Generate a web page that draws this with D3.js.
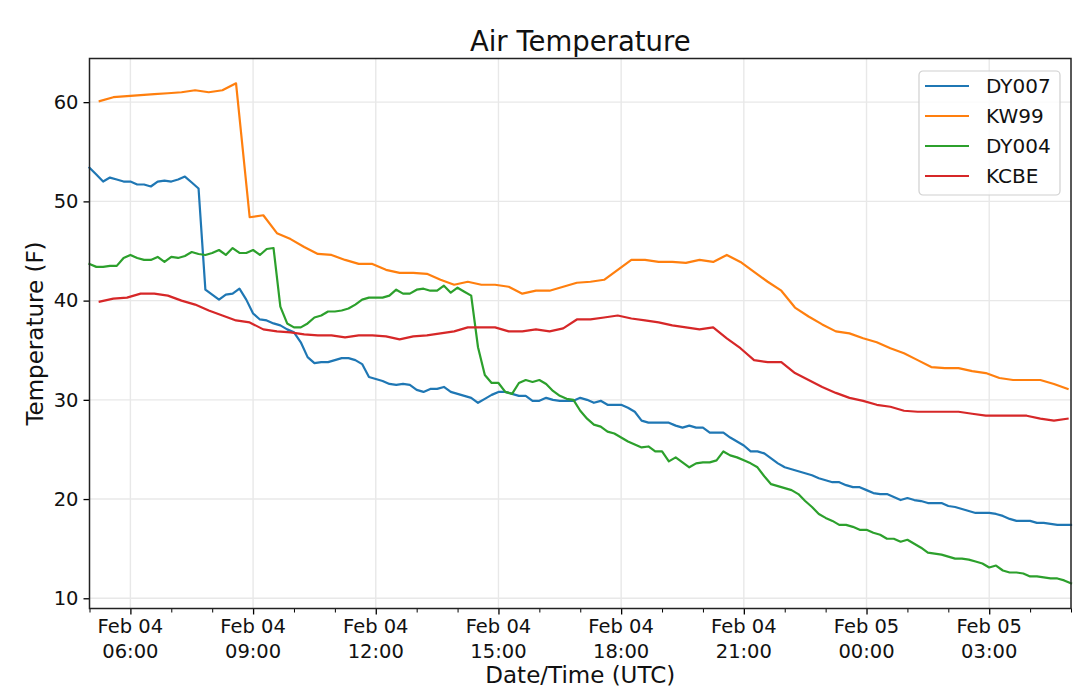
<!DOCTYPE html>
<html>
<head>
<meta charset="utf-8">
<script src="https://cdn.jsdelivr.net/npm/d3@7"></script>
<style>
  body { margin: 0; background: #fff; }
  svg { font-family: "DejaVu Sans", sans-serif; }
</style>
</head>
<body>
<div id="chart"></div>
<script>
// station series, temps in F
const stationNames = ["DY007", "KW99", "DY004", "KCBE"];
const stationColors = ["#1f77b4", "#ff7f0e", "#2ca02c", "#d62728"];

// DY stations report every 10 min from 05:00 UTC
const dyStart = "2019-02-04T05:00:00Z";
const dyStepMin = 10;
// KW99 / KCBE report every 20 min from 05:15 UTC
const kStart = "2019-02-04T05:15:00Z";
const kStepMin = 20;

const dy007 = [53.4, 52.7, 52.0, 52.4, 52.2, 52.0, 52.0, 51.7, 51.7, 51.5,
  52.0, 52.1, 52.0, 52.2, 52.5, 51.9, 51.3, 41.1, 40.6, 40.1,
  40.6, 40.7, 41.2, 40.1, 38.7, 38.1, 38.0, 37.7, 37.5, 37.1,
  36.8, 35.8, 34.3, 33.7, 33.8, 33.8, 34.0, 34.2, 34.2, 34.0,
  33.6, 32.3, 32.1, 31.9, 31.6, 31.5, 31.6, 31.5, 31.0, 30.8,
  31.1, 31.1, 31.3, 30.8, 30.6, 30.4, 30.2, 29.7, 30.1, 30.5,
  30.8, 30.8, 30.6, 30.4, 30.4, 29.9, 29.9, 30.2, 30.0, 29.9,
  29.9, 29.9, 30.2, 30.0, 29.7, 29.9, 29.5, 29.5, 29.5, 29.2,
  28.8, 27.9, 27.7, 27.7, 27.7, 27.7, 27.4, 27.2, 27.4, 27.2,
  27.2, 26.7, 26.7, 26.7, 26.2, 25.8, 25.4, 24.8, 24.8, 24.6,
  24.1, 23.6, 23.2, 23.0, 22.8, 22.6, 22.4, 22.1, 21.9, 21.7,
  21.7, 21.4, 21.2, 21.2, 20.9, 20.6, 20.5, 20.5, 20.2, 19.9,
  20.1, 19.9, 19.8, 19.6, 19.6, 19.6, 19.3, 19.2, 19.0, 18.8,
  18.6, 18.6, 18.6, 18.5, 18.3, 18.0, 17.8, 17.8, 17.8, 17.6,
  17.6, 17.5, 17.4, 17.4, 17.4];

const dy004 = [43.7, 43.4, 43.4, 43.5, 43.5, 44.3, 44.6, 44.3, 44.1, 44.1,
  44.4, 43.9, 44.4, 44.3, 44.5, 44.9, 44.7, 44.6, 44.8, 45.1,
  44.6, 45.3, 44.8, 44.8, 45.1, 44.6, 45.2, 45.3, 39.4, 37.7,
  37.3, 37.3, 37.7, 38.3, 38.5, 38.9, 38.9, 39.0, 39.2, 39.6,
  40.1, 40.3, 40.3, 40.3, 40.5, 41.1, 40.7, 40.7, 41.1, 41.2,
  41.0, 41.0, 41.5, 40.8, 41.3, 40.9, 40.5, 35.3, 32.5, 31.7,
  31.7, 30.8, 30.6, 31.7, 32.0, 31.8, 32.0, 31.6, 30.9, 30.4,
  30.1, 30.0, 28.9, 28.1, 27.5, 27.3, 26.8, 26.6, 26.2, 25.8,
  25.5, 25.2, 25.3, 24.8, 24.8, 23.8, 24.2, 23.7, 23.2, 23.6,
  23.7, 23.7, 23.9, 24.8, 24.4, 24.2, 23.9, 23.6, 23.2, 22.3,
  21.5, 21.3, 21.1, 20.9, 20.5, 19.8, 19.2, 18.5, 18.1, 17.8,
  17.4, 17.4, 17.2, 16.9, 16.9, 16.6, 16.4, 16.0, 16.0, 15.7,
  15.9, 15.5, 15.1, 14.6, 14.5, 14.4, 14.2, 14.0, 14.0, 13.9,
  13.7, 13.5, 13.1, 13.3, 12.8, 12.6, 12.6, 12.5, 12.2, 12.2,
  12.1, 12.0, 12.0, 11.8, 11.5];

const kw99 = [60.1, 60.5, 60.6, 60.7, 60.8, 60.9, 61.0, 61.2, 61.0, 61.2,
  61.9, 48.4, 48.6, 46.8, 46.2, 45.4, 44.7, 44.6, 44.1, 43.7,
  43.7, 43.1, 42.8, 42.8, 42.7, 42.1, 41.6, 41.9, 41.6, 41.6,
  41.4, 40.7, 41.0, 41.0, 41.4, 41.8, 41.9, 42.1, 43.1, 44.1,
  44.1, 43.9, 43.9, 43.8, 44.1, 43.9, 44.6, 43.9, 42.9, 41.9,
  41.0, 39.3, 38.4, 37.6, 36.9, 36.7, 36.2, 35.8, 35.2, 34.7,
  34.0, 33.3, 33.2, 33.2, 32.9, 32.7, 32.2, 32.0, 32.0, 32.0,
  31.6, 31.1];

const kcbe = [39.9, 40.2, 40.3, 40.7, 40.7, 40.5, 40.0, 39.6, 39.0, 38.5,
  38.0, 37.8, 37.1, 36.9, 36.8, 36.6, 36.5, 36.5, 36.3, 36.5,
  36.5, 36.4, 36.1, 36.4, 36.5, 36.7, 36.9, 37.3, 37.3, 37.3,
  36.9, 36.9, 37.1, 36.9, 37.2, 38.1, 38.1, 38.3, 38.5, 38.2,
  38.0, 37.8, 37.5, 37.3, 37.1, 37.3, 36.2, 35.2, 34.0, 33.8,
  33.8, 32.7, 32.0, 31.3, 30.7, 30.2, 29.9, 29.5, 29.3, 28.9,
  28.8, 28.8, 28.8, 28.8, 28.6, 28.4, 28.4, 28.4, 28.4, 28.1,
  27.9, 28.1];

const xDomain = ["2019-02-04T05:00:00Z", "2019-02-05T05:00:00Z"];
const yDomain = [8.97, 64.4];
const yTicks = [10, 20, 30, 40, 50, 60];

const W = 1079, H = 700;
const margin = {left: 89.5, top: 58.5, right: 8, bottom: 91.5};
const innerW = W - margin.left - margin.right;
const innerH = H - margin.top - margin.bottom;

const toSeries = (vals, start, step) => {
  const t0 = new Date(start);
  return vals.map((v, i) => ({t: d3.utcMinute.offset(t0, i * step), v: v}));
};

const series = [
  toSeries(dy007, dyStart, dyStepMin),
  toSeries(kw99, kStart, kStepMin),
  toSeries(dy004, dyStart, dyStepMin),
  toSeries(kcbe, kStart, kStepMin)
];

const svg = d3.select("#chart").append("svg")
  .attr("width", W).attr("height", H);

const x = d3.scaleUtc()
  .domain(xDomain.map(d => new Date(d)))
  .range([margin.left, margin.left + innerW]);
const y = d3.scaleLinear()
  .domain(yDomain)
  .range([margin.top + innerH, margin.top]);

const majorTicks = x.ticks(d3.utcHour.every(3));
const minorTicks = x.ticks(d3.utcHour.every(1));

// grid
const grid = svg.append("g").attr("stroke", "#e8e8e8").attr("stroke-width", 1.4);
grid.selectAll(".gx").data(majorTicks).join("line")
  .attr("x1", d => x(d)).attr("x2", d => x(d))
  .attr("y1", margin.top).attr("y2", margin.top + innerH);
grid.selectAll(".gy").data(yTicks).join("line")
  .attr("x1", margin.left).attr("x2", margin.left + innerW)
  .attr("y1", d => y(d)).attr("y2", d => y(d));

// lines
const line = d3.line().x(d => x(d.t)).y(d => y(d.v));
svg.append("g").selectAll("path").data(series).join("path")
  .attr("d", line)
  .attr("fill", "none")
  .attr("stroke", (d, i) => stationColors[i])
  .attr("stroke-width", 2.2)
  .attr("stroke-linejoin", "round")
  .attr("stroke-linecap", "square");

// x axis
const fmtDay = d3.utcFormat("%b %d");
const fmtHour = d3.utcFormat("%H:%M");
const xAxis = d3.axisBottom(x).tickValues(majorTicks).tickSize(6).tickFormat("");
const gx = svg.append("g")
  .attr("transform", `translate(0,${margin.top + innerH})`)
  .call(xAxis);
gx.select(".domain").remove();
gx.selectAll(".tick line").attr("stroke", "#000").attr("stroke-width", 1.3);
svg.append("g")
  .attr("transform", `translate(0,${margin.top + innerH})`)
  .call(d3.axisBottom(x).tickValues(minorTicks.filter(t => t.getUTCHours() % 3 != 0))
    .tickSize(4).tickFormat(""))
  .call(g => g.select(".domain").remove())
  .selectAll(".tick line").attr("stroke", "#000").attr("stroke-width", 1);

const xLabels = svg.append("g").attr("font-size", 19.5).attr("fill", "#111")
  .attr("text-anchor", "middle");
xLabels.selectAll(".d1").data(majorTicks).join("text")
  .attr("x", d => x(d)).attr("y", 632.5).text(d => fmtDay(d));
xLabels.selectAll(".d2").data(majorTicks).join("text")
  .attr("x", d => x(d)).attr("y", 657.5).text(d => fmtHour(d));

// y axis
const gy = svg.append("g")
  .attr("transform", `translate(${margin.left},0)`)
  .call(d3.axisLeft(y).tickValues(yTicks).tickSize(6).tickPadding(5));
gy.select(".domain").remove();
gy.selectAll(".tick line").attr("stroke", "#000").attr("stroke-width", 1.3);
gy.selectAll(".tick text")
  .attr("font-size", 19.5).attr("fill", "#111")
  .attr("font-family", "DejaVu Sans");

// frame
svg.append("rect")
  .attr("x", margin.left).attr("y", margin.top)
  .attr("width", innerW).attr("height", innerH)
  .attr("fill", "none").attr("stroke", "#222").attr("stroke-width", 1.5);

// titles
svg.append("text")
  .attr("x", margin.left + innerW / 2).attr("y", 50.5)
  .attr("text-anchor", "middle").attr("font-size", 27.5).attr("fill", "#111")
  .text("Air Temperature");
svg.append("text")
  .attr("x", margin.left + innerW / 2).attr("y", 683)
  .attr("text-anchor", "middle").attr("font-size", 23).attr("fill", "#111")
  .text("Date/Time (UTC)");
svg.append("text")
  .attr("transform", `translate(43,${margin.top + innerH / 2}) rotate(-90)`)
  .attr("text-anchor", "middle").attr("font-size", 23).attr("fill", "#111")
  .text("Temperature (F)");

// legend
const legend = svg.append("g").attr("transform", "translate(919,71)");
legend.append("rect")
  .attr("width", 141).attr("height", 124).attr("rx", 4)
  .attr("fill", "#fff").attr("fill-opacity", 0.8)
  .attr("stroke", "#d0d0d0").attr("stroke-width", 1.2);
const rows = legend.selectAll(".row").data(stationNames).join("g")
  .attr("transform", (d, i) => `translate(0,${15 + i * 30})`);
rows.append("line")
  .attr("x1", 6).attr("x2", 50)
  .attr("stroke", (d, i) => stationColors[i]).attr("stroke-width", 2.2);
rows.append("text")
  .attr("x", 67).attr("y", 7)
  .attr("font-size", 20).attr("fill", "#111")
  .text(d => d);
</script>
</body>
</html>
